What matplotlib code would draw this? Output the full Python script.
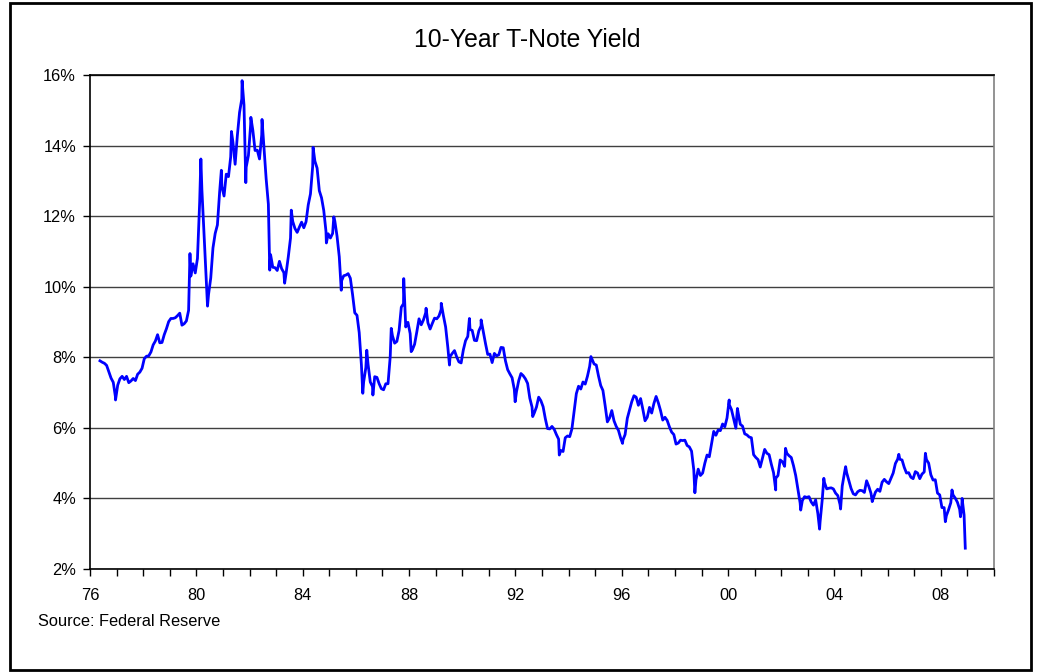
import numpy as np
import matplotlib
matplotlib.use('Agg')
import matplotlib.pyplot as plt
from matplotlib.patches import Rectangle
from matplotlib.ticker import FixedLocator, MultipleLocator

plt.rcParams['font.family'] = ['Liberation Sans', 'DejaVu Sans']

# monthly 10-year yields (%), May 1976 .. Nov 2008
monthly_yield = [
    # 1976 (May-Dec)
    7.90, 7.86, 7.83, 7.77, 7.59, 7.41, 7.29, 6.87,
    # 1977
    7.21, 7.39, 7.46, 7.37, 7.46, 7.28, 7.33, 7.40, 7.34, 7.52, 7.58, 7.69,
    # 1978
    7.96, 8.03, 8.04, 8.15, 8.35, 8.46, 8.64, 8.41, 8.42, 8.64, 8.81, 9.01,
    # 1979
    9.10, 9.10, 9.12, 9.18, 9.25, 8.91, 8.95, 9.03, 9.33, 10.30, 10.65, 10.39,
    # 1980
    10.80, 12.41, 12.75, 11.47, 10.18, 9.78, 10.25, 11.10, 11.51, 11.75, 12.68, 12.84,
    # 1981
    12.57, 13.19, 13.12, 13.68, 14.10, 13.47, 14.28, 14.94, 15.32, 15.15, 13.39, 13.72,
    # 1982
    14.59, 14.43, 13.86, 13.87, 13.62, 14.30, 13.95, 13.06, 12.34, 10.91, 10.55, 10.54,
    # 1983
    10.46, 10.72, 10.51, 10.40, 10.38, 10.85, 11.38, 11.85, 11.65, 11.54, 11.69, 11.83,
    # 1984
    11.67, 11.84, 12.32, 12.63, 13.41, 13.56, 13.36, 12.72, 12.52, 12.16, 11.57, 11.50,
    # 1985
    11.38, 11.51, 11.86, 11.43, 10.85, 10.16, 10.31, 10.33, 10.37, 10.24, 9.78, 9.26,
    # 1986
    9.19, 8.70, 7.78, 7.30, 7.71, 7.80, 7.30, 7.17, 7.45, 7.43, 7.25, 7.11,
    # 1987
    7.08, 7.25, 7.25, 8.02, 8.61, 8.40, 8.45, 8.76, 9.42, 9.52, 8.86, 8.99,
    # 1988
    8.67, 8.21, 8.37, 8.72, 9.09, 8.92, 9.06, 9.26, 8.98, 8.80, 8.96, 9.11,
    # 1989
    9.09, 9.17, 9.36, 9.18, 8.86, 8.28, 8.02, 8.11, 8.19, 8.01, 7.87, 7.84,
    # 1990
    8.21, 8.47, 8.59, 8.79, 8.76, 8.48, 8.47, 8.75, 8.89, 8.72, 8.39, 8.08,
    # 1991
    8.09, 7.85, 8.11, 8.04, 8.07, 8.28, 8.27, 7.90, 7.65, 7.53, 7.42, 7.09,
    # 1992
    7.03, 7.34, 7.54, 7.48, 7.39, 7.26, 6.84, 6.59, 6.42, 6.59, 6.87, 6.77,
    # 1993
    6.60, 6.26, 5.98, 5.97, 6.04, 5.96, 5.81, 5.68, 5.36, 5.33, 5.72, 5.77,
    # 1994
    5.75, 5.97, 6.48, 6.97, 7.18, 7.10, 7.30, 7.24, 7.46, 7.74, 7.96, 7.81,
    # 1995
    7.78, 7.47, 7.20, 7.06, 6.63, 6.17, 6.28, 6.49, 6.20, 6.04, 5.93, 5.71,
    # 1996
    5.65, 5.81, 6.27, 6.51, 6.74, 6.91, 6.87, 6.64, 6.83, 6.53, 6.20, 6.30,
    # 1997
    6.58, 6.42, 6.69, 6.89, 6.71, 6.49, 6.22, 6.30, 6.21, 6.03, 5.88, 5.81,
    # 1998
    5.54, 5.57, 5.65, 5.64, 5.65, 5.50, 5.46, 5.34, 4.81, 4.53, 4.83, 4.65,
    # 1999
    4.72, 5.00, 5.23, 5.18, 5.54, 5.90, 5.79, 5.94, 5.92, 6.11, 6.03, 6.28,
    # 2000
    6.66, 6.52, 6.26, 5.99, 6.44, 6.10, 6.05, 5.83, 5.80, 5.74, 5.72, 5.24,
    # 2001
    5.16, 5.10, 4.89, 5.14, 5.39, 5.28, 5.24, 4.97, 4.73, 4.57, 4.65, 5.09,
    # 2002
    5.04, 4.91, 5.28, 5.21, 5.16, 4.93, 4.65, 4.26, 3.87, 3.94, 4.05, 4.03,
    # 2003
    4.05, 3.90, 3.81, 3.96, 3.57, 3.33, 3.98, 4.45, 4.27, 4.29, 4.30, 4.27,
    # 2004
    4.15, 4.08, 3.83, 4.35, 4.72, 4.73, 4.50, 4.28, 4.13, 4.10, 4.19, 4.23,
    # 2005
    4.22, 4.17, 4.50, 4.34, 4.14, 4.00, 4.18, 4.26, 4.20, 4.46, 4.54, 4.47,
    # 2006
    4.42, 4.57, 4.72, 4.99, 5.11, 5.11, 5.09, 4.88, 4.72, 4.73, 4.60, 4.56,
    # 2007
    4.76, 4.72, 4.56, 4.69, 4.75, 5.10, 5.00, 4.67, 4.52, 4.53, 4.15, 4.10,
    # 2008 (Jan-Nov)
    3.74, 3.74, 3.51, 3.68, 3.88, 4.10, 4.01, 3.89, 3.69, 3.81, 3.53,
]
first_month = 1976 + 4 / 12

# intramonth highs and lows (decimal year, %)
extreme_t = [1976.96, 1979.76, 1980.17, 1980.42, 1980.94, 1981.32, 1981.72,
             1981.86, 1982.05, 1982.47, 1982.76, 1983.32, 1983.57, 1984.39,
             1984.89, 1985.17, 1985.45, 1986.26, 1986.41, 1986.64, 1987.33,
             1987.80, 1988.08, 1988.64, 1989.21, 1989.52, 1990.27, 1990.71,
             1991.99, 1992.65, 1993.65, 1994.84, 1996.03, 1998.75, 2000.04,
             2000.35, 2001.79, 2002.16, 2002.73, 2003.44, 2003.60, 2004.23,
             2004.42, 2005.42, 2006.42, 2007.42, 2008.17, 2008.42, 2008.74,
             2008.80, 2008.92]
extreme_v = [6.79, 10.94, 13.62, 9.45, 13.30, 14.40, 15.84,
             12.95, 14.80, 14.74, 10.47, 10.10, 12.17, 13.95,
             11.24, 11.98, 9.90, 6.98, 8.20, 6.93, 8.82,
             10.23, 8.16, 9.39, 9.53, 7.78, 9.10, 9.06,
             6.74, 6.32, 5.23, 8.02, 5.56, 4.16, 6.79,
             6.55, 4.24, 5.42, 3.67, 3.13, 4.57, 3.70,
             4.90, 3.91, 5.25, 5.28, 3.34, 4.24, 3.48,
             4.00, 2.59]

year_ticks = list(range(1976, 2009, 4))
year_labels = ['%02d' % (y % 100) for y in year_ticks]
pct_ticks = list(range(2, 17, 2))
pct_labels = ['%d%%' % p for p in pct_ticks]

month_t = first_month + (np.arange(len(monthly_yield)) + 0.5) / 12
t = np.concatenate([month_t, extreme_t])
v = np.concatenate([monthly_yield, extreme_v])
order = np.argsort(t)

fig = plt.figure(figsize=(10.39, 6.72), dpi=100)
ax = fig.add_axes([90 / 1039, 1 - 569 / 672, 904 / 1039, 494 / 672])

ax.plot(t[order], v[order], color='#0000ff', lw=2.0, zorder=3)

ax.set_xlim(1976, 2010)
ax.set_ylim(2, 16)
ax.xaxis.set_major_locator(FixedLocator(year_ticks))
ax.xaxis.set_minor_locator(MultipleLocator(1))
ax.set_xticklabels(year_labels)
ax.set_yticks(pct_ticks)
ax.set_yticklabels(pct_labels)

ax.yaxis.grid(True, color='#404040', lw=1.0)
ax.set_axisbelow(True)
ax.tick_params(axis='both', which='both', direction='out', length=5,
               width=1, color='black', labelsize=11.8)
ax.tick_params(axis='x', pad=9)
ax.tick_params(axis='y', pad=5)

for side in ['left', 'bottom', 'top']:
    ax.spines[side].set_color('black')
    ax.spines[side].set_linewidth(1.2)
ax.spines['right'].set_color('#808080')
ax.spines['right'].set_linewidth(1.2)

fig.text(527 / 1039, 1 - 40 / 672, '10-Year T-Note Yield',
         ha='center', va='center', fontsize=17.8)
fig.text(38 / 1039, 1 - 621 / 672, 'Source: Federal Reserve',
         ha='left', va='center', fontsize=11.8)

# frame around the whole chart
fig.patches.append(Rectangle((10 / 1039, 2 / 672), 1021 / 1039, 667 / 672,
                             transform=fig.transFigure, fill=False,
                             ec='black', lw=2))

fig.savefig('out.png', dpi=100)
